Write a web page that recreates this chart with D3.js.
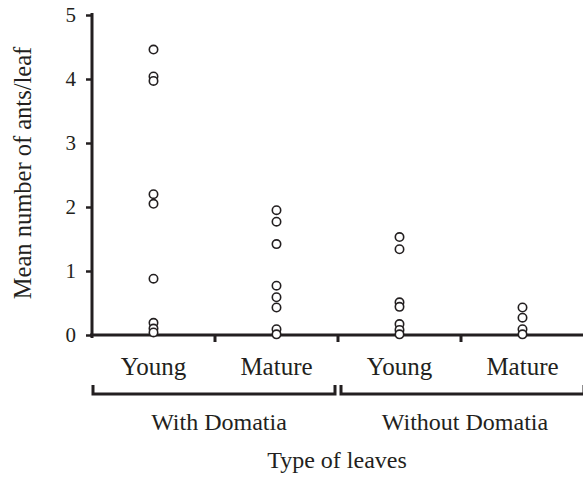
<!DOCTYPE html>
<html>
<head>
<meta charset="utf-8">
<script src="https://cdn.jsdelivr.net/npm/d3@7"></script>
<style>
  body { margin: 0; background: #fff; }
  text { font-family: "Liberation Serif", "DejaVu Serif", serif; fill: #231f20; }
</style>
</head>
<body>
<svg id="chart" width="583" height="477"></svg>
<script>
// categories on the x axis
const categories = ['WY', 'WM', 'OY', 'OM'];
const categoryLabels = ['Young', 'Mature', 'Young', 'Mature'];
const groups = ['With Domatia', 'Without Domatia'];
const groupMembers = [['WY', 'WM'], ['OY', 'OM']];

// mean ants per leaf, one array per category
const withYoung = [4.46, 4.04, 3.97, 2.20, 2.05, 0.88, 0.19, 0.10, 0.04];
const withMature = [1.95, 1.77, 1.42, 0.77, 0.59, 0.43, 0.09, 0.01];
const withoutYoung = [1.53, 1.34, 0.51, 0.44, 0.17, 0.08, 0.01];
const withoutMature = [0.43, 0.27, 0.09, 0.01];

const yTicks = [0, 1, 2, 3, 4, 5];

const series = [withYoung, withMature, withoutYoung, withoutMature];

let svg = d3.select('#chart');
let ink = '#231f20';

let x = d3.scaleBand()
    .domain(categories)
    .range([92, 584]);

let y = d3.scaleLinear()
    .domain([0, 5])
    .range([335, 15]);

// y axis
let yAxis = svg.append('g')
    .attr('transform', 'translate(92,0)')
    .call(d3.axisLeft(y).tickValues(yTicks).tickSize(6).tickPadding(10).tickFormat(d3.format('d')));
yAxis.select('.domain').attr('d', 'M0,13V338').attr('stroke', ink).attr('stroke-width', 3);
yAxis.selectAll('.tick line').attr('stroke', ink).attr('stroke-width', 2.5);
yAxis.selectAll('.tick text')
    .style('font-family', '"Liberation Serif", serif')
    .style('font-size', '21px')
    .attr('fill', ink);

// x axis line with ticks at band edges
svg.append('line')
    .attr('x1', 90).attr('x2', 583)
    .attr('y1', y(0)).attr('y2', y(0))
    .attr('stroke', ink).attr('stroke-width', 3);

let edges = categories.map(c => x(c)).concat([x.range()[1]]);
svg.selectAll('.xtick')
    .data(edges.slice(1, 4))
    .join('line')
    .attr('class', 'xtick')
    .attr('x1', d => d).attr('x2', d => d)
    .attr('y1', y(0)).attr('y2', y(0) + 7)
    .attr('stroke', ink).attr('stroke-width', 3);

// category labels
svg.selectAll('.catlabel')
    .data(categories)
    .join('text')
    .attr('class', 'catlabel')
    .attr('x', d => x(d) + x.bandwidth() / 2)
    .attr('y', 375)
    .attr('text-anchor', 'middle')
    .style('font-size', '25px')
    .text((d, i) => categoryLabels[i]);

// group brackets
groupMembers.forEach((members, i) => {
    let x0 = x(members[0]) + (i === 0 ? 1 : 3);
    let x1 = x(members[members.length - 1]) + x.bandwidth() - (i === 0 ? 3 : 0);
    svg.append('path')
        .attr('d', `M${x0},385V394H${x1}V385`)
        .attr('fill', 'none')
        .attr('stroke', ink)
        .attr('stroke-width', 3);
    svg.append('text')
        .attr('x', (x(members[0]) + x(members[members.length - 1]) + x.bandwidth()) / 2 + 4)
        .attr('y', 430)
        .attr('text-anchor', 'middle')
        .style('font-size', '24px')
        .text(groups[i]);
});

// points
series.forEach((vals, i) => {
    let cx = x(categories[i]) + x.bandwidth() / 2;
    svg.append('g')
        .selectAll('circle')
        .data(vals)
        .join('circle')
        .attr('cx', cx)
        .attr('cy', d => y(d))
        .attr('r', 4.2)
        .attr('fill', '#fff')
        .attr('stroke', ink)
        .attr('stroke-width', 1.6);
});

// axis titles
svg.append('text')
    .attr('x', 337)
    .attr('y', 468)
    .attr('text-anchor', 'middle')
    .style('font-size', '24px')
    .text('Type of leaves');

svg.append('text')
    .attr('transform', 'translate(31,173) rotate(-90)')
    .attr('text-anchor', 'middle')
    .style('font-size', '24.5px')
    .text('Mean number of ants/leaf');
</script>
</body>
</html>
